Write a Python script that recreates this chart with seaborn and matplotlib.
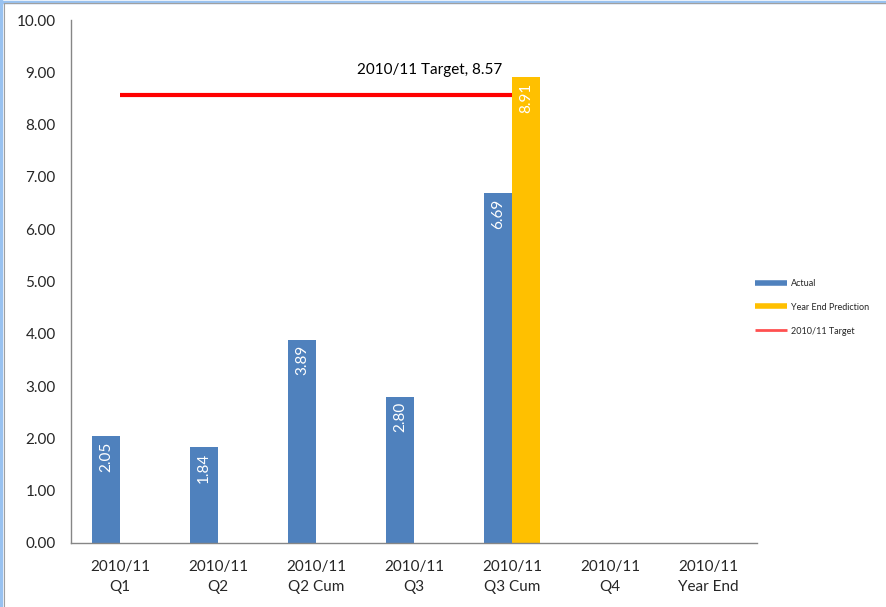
import numpy as np
import pandas as pd
import matplotlib
matplotlib.use("Agg")
import matplotlib.pyplot as plt
import seaborn as sns
from matplotlib.lines import Line2D

categories = ["2010/11\nQ1", "2010/11\nQ2", "2010/11\nQ2 Cum", "2010/11\nQ3",
              "2010/11\nQ3 Cum", "2010/11\nQ4", "2010/11\nYear End"]
actual = [2.05, 1.84, 3.89, 2.80, 6.69, np.nan, np.nan]
prediction = [np.nan, np.nan, np.nan, np.nan, 8.91, np.nan, np.nan]
target = 8.57
target_label = "2010/11 Target, 8.57"
series_names = ["Actual", "Year End Prediction"]

blue = "#4F81BD"
yellow = "#FFC000"
red = "#FF0000"
axis_grey = "#868686"

df = pd.DataFrame({
    "category": categories * 2,
    "series": [series_names[0]] * len(categories) + [series_names[1]] * len(categories),
    "value": actual + prediction,
})

sns.set_style("white")
plt.rcParams["font.family"] = ["Lato", "DejaVu Sans"]

fig = plt.figure(figsize=(8.87, 6.07), dpi=100)
ax = fig.add_axes([71 / 887, 1 - 543 / 607, 686 / 887, 523 / 607])

sns.barplot(data=df, x="category", y="value", hue="series", order=categories,
            hue_order=series_names, palette=[blue, yellow], width=0.57,
            dodge=True, saturation=1, legend=False, linewidth=0, ax=ax)

# labels inside the bars, rotated like Excel does it
for container in ax.containers:
    for patch in container:
        h = patch.get_height()
        if np.isnan(h) or h == 0:
            continue
        ax.annotate(f"{h:.2f}", (patch.get_x() + patch.get_width() / 2, h),
                    xytext=(0, -4), textcoords="offset points", rotation=90,
                    ha="center", va="top", color="white", fontsize=11)

# target line from Q1 to Q3 Cum
ax.hlines(target, 0, 4, color=red, lw=3, zorder=3)
ax.annotate(target_label, (3.16, target), xytext=(0, 18), textcoords="offset points",
            ha="center", va="center", fontsize=11, color="black")

ax.set_ylim(0, 10)
ax.set_xlim(-0.5, len(categories) - 0.5)
ax.set_yticks(np.arange(0, 11, 1))
ax.set_yticklabels([f"{v:.2f}" for v in np.arange(0, 11, 1)], fontsize=11)

ax.set_xticks(np.arange(-0.5, len(categories), 1))
ax.set_xticklabels([])
ax.set_xticks(np.arange(len(categories)), minor=True)
ax.set_xticklabels(categories, minor=True, fontsize=11, linespacing=1.6)
ax.tick_params(axis="x", which="minor", length=0, pad=12)
ax.tick_params(axis="x", which="major", length=5, color=axis_grey, direction="out")
ax.tick_params(axis="y", length=5, color=axis_grey, direction="out", pad=6)
ax.set_xlabel("")
ax.set_ylabel("")

for side in ["top", "right"]:
    ax.spines[side].set_visible(False)
for side in ["left", "bottom"]:
    ax.spines[side].set_color(axis_grey)
    ax.spines[side].set_linewidth(1)

handles = [Line2D([], [], color=blue, lw=4, solid_capstyle="butt"),
           Line2D([], [], color=yellow, lw=4, solid_capstyle="butt"),
           Line2D([], [], color="#FF5050", lw=2, solid_capstyle="butt")]
fig.legend(handles, series_names + ["2010/11 Target"], loc="center left",
           bbox_to_anchor=(0.846, 0.494), frameon=False, fontsize=6.5,
           handlelength=3.6, handletextpad=0.4, labelspacing=1.65, borderpad=0)

# light blue frame on the left and top edges
fig.add_artist(Line2D([0.0015, 0.0015], [0, 1], transform=fig.transFigure,
                      color="#99C2F0", lw=2.5))
fig.add_artist(Line2D([0, 1], [0.9975, 0.9975], transform=fig.transFigure,
                      color="#99C2F0", lw=2.5))
fig.add_artist(Line2D([0.004, 0.004], [0, 0.995], transform=fig.transFigure,
                      color="#A0A0A0", lw=0.8))
fig.add_artist(Line2D([0.004, 1], [0.995, 0.995], transform=fig.transFigure,
                      color="#A0A0A0", lw=0.8))

fig.savefig("out.png", dpi=100)
